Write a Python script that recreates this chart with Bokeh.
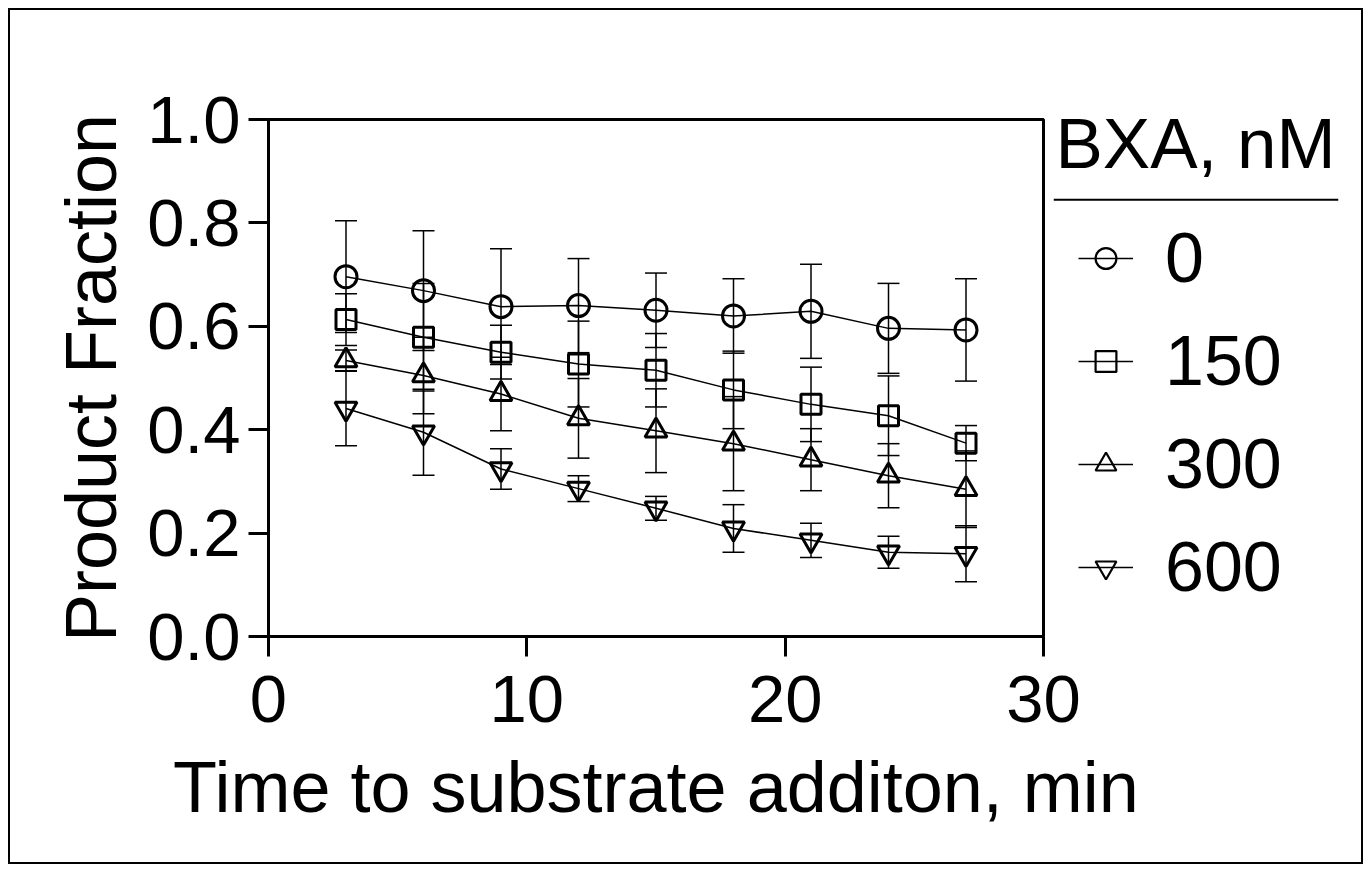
from bokeh.plotting import figure
from bokeh.models import (ColumnDataSource, Whisker, TeeHead, FixedTicker, Legend, LegendItem,
                          Label, Span, PrintfTickFormatter)
from bokeh.embed import file_html
from bokeh.resources import INLINE

# ---------------- data ----------------
time_min = [3, 6, 9, 12, 15, 18, 21, 24, 27]

bxa_0 = [0.696, 0.669, 0.638, 0.640, 0.631, 0.620, 0.629, 0.596, 0.593]
bxa_0_sd = [0.108, 0.116, 0.112, 0.091, 0.072, 0.072, 0.091, 0.087, 0.099]

bxa_150 = [0.613, 0.579, 0.550, 0.527, 0.515, 0.477, 0.449, 0.427, 0.374]
bxa_150_sd = [0.050, 0.104, 0.052, 0.083, 0.071, 0.075, 0.072, 0.077, 0.034]

bxa_300 = [0.534, 0.505, 0.469, 0.422, 0.398, 0.373, 0.342, 0.311, 0.285]
bxa_300_sd = [0.020, 0.074, 0.071, 0.077, 0.081, 0.091, 0.060, 0.062, 0.074]

bxa_600 = [0.441, 0.395, 0.324, 0.286, 0.248, 0.209, 0.186, 0.163, 0.160]
bxa_600_sd = [0.072, 0.083, 0.039, 0.025, 0.023, 0.046, 0.033, 0.031, 0.054]

series_labels = ["0", "150", "300", "600"]
series_markers = ["circle", "square", "triangle", "inverted_triangle"]
series_values = [bxa_0, bxa_150, bxa_300, bxa_600]
series_sds = [bxa_0_sd, bxa_150_sd, bxa_300_sd, bxa_600_sd]
marker_sizes = [22, 20, 22, 22]

x_ticks = [0, 10, 20, 30]
y_ticks = [0.0, 0.2, 0.4, 0.6, 0.8, 1.0]

legend_title = "BXA, nM"
x_title = "Time to substrate additon, min"
y_title = "Product Fraction"

FONT = "Liberation Sans"
W, H = 1351, 852

# ---------------- main figure ----------------
p = figure(frame_width=775, frame_height=517,
           min_border_left=258, min_border_right=W - 258 - 775,
           min_border_top=109, min_border_bottom=H - 109 - 517,
           x_range=(0, 30), y_range=(0, 1),
           output_backend="svg", toolbar_location=None)
p.styles = {"border": "2px solid black", "margin": "8px"}
p.xgrid.visible = False
p.ygrid.visible = False
p.outline_line_color = "black"
p.outline_line_width = 3
p.outline_line_alpha = 1.0
p.background_fill_color = "white"
p.border_fill_color = "white"

p.xaxis.ticker = FixedTicker(ticks=x_ticks)
p.yaxis.ticker = FixedTicker(ticks=y_ticks)
p.xaxis.formatter = PrintfTickFormatter(format="%d")
p.yaxis.formatter = PrintfTickFormatter(format="%.1f")
p.xaxis.axis_label = x_title
p.yaxis.axis_label = y_title

for ax in (p.xaxis[0], p.yaxis[0]):
    ax.axis_line_width = 3
    ax.axis_line_color = "black"
    ax.major_tick_line_width = 3
    ax.major_tick_line_color = "black"
    ax.major_tick_out = 20
    ax.major_tick_in = 0
    ax.minor_tick_line_color = None
    ax.major_label_text_font = FONT
    ax.major_label_text_font_size = "67px"
    ax.major_label_text_color = "black"
    ax.axis_label_text_font = FONT
    ax.axis_label_text_font_size = "72px"
    ax.axis_label_text_font_style = "normal"
    ax.axis_label_text_color = "black"
p.yaxis.major_label_standoff = 8
p.xaxis.major_label_standoff = 19
p.xaxis.axis_label_standoff = 22
p.yaxis.axis_label_standoff = 13

# ---------------- legend layer (transparent, laid over the same area) ----------------
p2 = figure(frame_width=285, frame_height=566,
            min_border_left=1043, min_border_right=W - 1043 - 285,
            min_border_top=60, min_border_bottom=H - 60 - 566,
            x_range=(0, 1), y_range=(0, 1),
            x_axis_location=None, y_axis_location=None,
            output_backend="svg", toolbar_location=None)
p2.styles = {"position": "absolute", "left": "10px", "top": "10px"}
p2.xgrid.visible = False
p2.ygrid.visible = False
p2.outline_line_color = None
p2.background_fill_color = None
p2.background_fill_alpha = 0
p2.border_fill_color = None
p2.border_fill_alpha = 0

items = []
for lab, mk, vals, sds, ms in zip(series_labels, series_markers, series_values, series_sds, marker_sizes):
    src = ColumnDataSource(dict(
        t=time_min, v=vals,
        up=[v + s for v, s in zip(vals, sds)],
        lo=[v - s for v, s in zip(vals, sds)],
    ))
    w = Whisker(source=src, base="t", upper="up", lower="lo", dimension="height",
                line_color="black", line_width=1.5,
                upper_head=TeeHead(size=22, line_width=1.5, line_color="black"),
                lower_head=TeeHead(size=22, line_width=1.5, line_color="black"))
    p.add_layout(w)
    p.line("t", "v", source=src, line_color="black", line_width=1.5)
    p.scatter("t", "v", source=src, marker=mk, size=ms, line_color="black",
              line_width=3, fill_color=None)
    # legend key glyphs (same style; a single NaN point so nothing shows in the plot)
    key_src = ColumnDataSource(dict(t=[float("nan")], v=[float("nan")]))
    lr = p2.line("t", "v", source=key_src, line_color="black", line_width=1.5)
    sr = p2.scatter("t", "v", source=key_src, marker=mk, size=ms, line_color="black",
                    line_width=2.2, fill_color=None)
    items.append(LegendItem(label=lab, renderers=[lr, sr]))

legend = Legend(items=items, location=(25, 29), glyph_width=55, glyph_height=52,
                label_standoff=32, spacing=23, padding=0, margin=0,
                border_line_color=None, background_fill_alpha=0,
                label_text_font=FONT, label_text_font_size="70px",
                label_text_color="black")
p2.add_layout(legend)

p2.add_layout(Label(x=2, y=493, x_units="screen", y_units="screen", text=legend_title,
                    text_font=FONT, text_font_size="71px", text_color="black",
                    text_baseline="alphabetic", text_align="left"))
p2.add_layout(Span(location=436.7, location_units="screen", dimension="width",
                   line_color="black", line_width=2))

open("out.html", "w").write(file_html([p, p2], INLINE))
